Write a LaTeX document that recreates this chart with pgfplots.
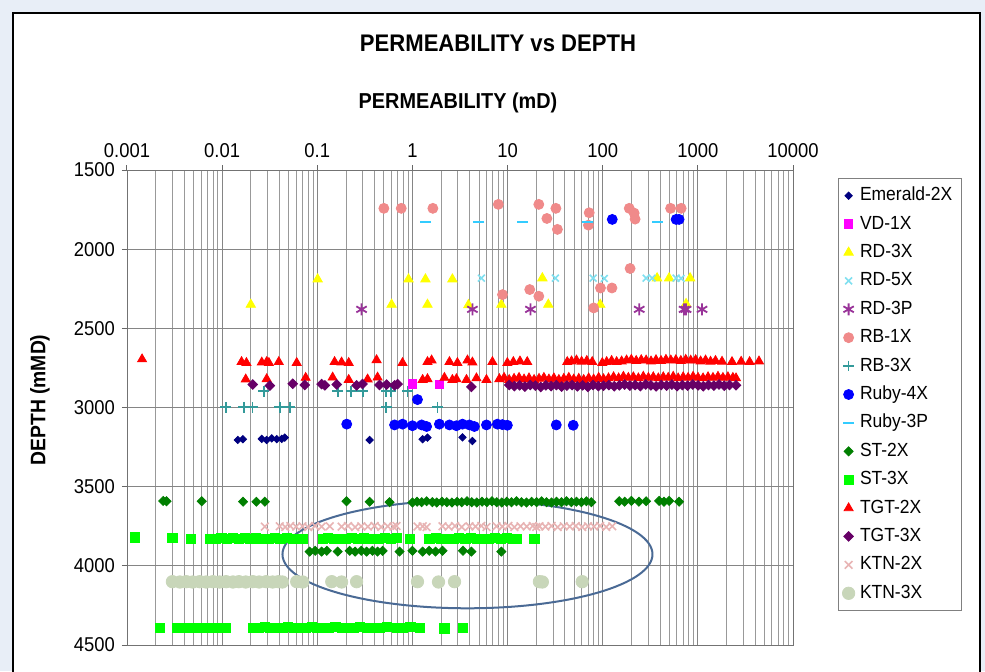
\documentclass[border=0pt]{standalone}
\usepackage{fontspec}
\setmainfont{Liberation Sans}[FakeStretch=0.92]
\usepackage{pgfplots}
\pgfplotsset{compat=1.18}
\definecolor{bgc}{HTML}{E8EEF7}
\definecolor{cEm}{HTML}{000080}
\definecolor{cVD}{HTML}{FF00FF}
\definecolor{cRD3X}{HTML}{FFFF00}
\definecolor{cRD5X}{HTML}{80E0F0}
\definecolor{cRD3P}{HTML}{993399}
\definecolor{cRB1X}{HTML}{F08A8A}
\definecolor{cRB3X}{HTML}{339A9A}
\definecolor{cRuby4X}{HTML}{0000FF}
\definecolor{cRuby3P}{HTML}{33CCFF}
\definecolor{cST2X}{HTML}{007F00}
\definecolor{cST3X}{HTML}{00FF00}
\definecolor{cTGT2X}{HTML}{FF0000}
\definecolor{cTGT3X}{HTML}{660066}
\definecolor{cKTN2X}{HTML}{E8B4B4}
\definecolor{cKTN3X}{HTML}{C8D6B9}
\definecolor{ellc}{HTML}{4A6A95}
\pgfplotsset{mk/.style={only marks, legend image code/.code={\draw[mark repeat=2,mark phase=2,##1] plot coordinates {(0pt,0pt)(3.5pt,0pt)(7pt,0pt)};}}}
\begin{document}
\begin{tikzpicture}
\useasboundingbox (0,0) rectangle (492.5pt,-335.5pt);
\fill[bgc] (0,0) rectangle (492.5pt,-335.5pt);
\begin{scope}
\clip (0,0) rectangle (492.5pt,-335.5pt);
\draw[line width=1.4pt, fill=white] (6.5pt,-6.5pt) rectangle (490pt,-360pt);
\end{scope}
\node[font=\fontsize{12}{14}\selectfont\bfseries] at (249pt,-21.5pt) {PERMEABILITY vs DEPTH};
\node[font=\fontsize{10.8}{12}\selectfont\bfseries] at (229pt,-51.5pt) {PERMEABILITY (mD)};
\node[font=\fontsize{10.5}{12}\selectfont\bfseries, rotate=90] at (20pt,-200pt) {DEPTH (mMD)};
\begin{axis}[
  at={(63.5pt,-85pt)}, anchor=north west,
  scale only axis, width=333pt, height=237.5pt,
  xmode=log, xmin=0.001, xmax=10000, ymin=1500, ymax=4500, y dir=reverse,
  xtick={0.001,0.01,0.1,1,10,100,1000,10000},
  xticklabels={0.001,0.01,0.1,1,10,100,1000,10000},
  ytick={1500,2000,2500,3000,3500,4000,4500},
  xtick pos=top, xticklabel pos=top, ytick pos=left,
  tick align=outside, major tick length=2.5pt, minor tick length=0pt,
  xminorgrids=true, xmajorgrids=true, ymajorgrids=true,
  major grid style={black!48, line width=0.45pt},
  minor grid style={black!40, line width=0.4pt},
  axis line style={black!55},
  tick style={black!60, line width=0.5pt},
  ticklabel style={font=\fontsize{10}{12}\selectfont},
  yticklabel style={/pgf/number format/1000 sep={}, /pgf/number format/assume math mode=true},
  legend style={at={(1.0676,0.983)}, anchor=north west, draw=black!50,
    font=\fontsize{9.5}{11}\selectfont, row sep=0pt, inner xsep=2pt, inner ysep=1.5pt,
    nodes={inner sep=2.6pt, text height=7pt, text depth=2pt}},
  legend cell align=left,
]
\addplot[mk, mark=square*, mark options={rotate=45}, mark size=1.3pt, color=cEm] coordinates {
(0.0146,3205)(0.0165,3200)(0.0261,3198)(0.0294,3205)(0.0332,3195)(0.0375,3200)(0.0423,3198)(0.0455,3190)(0.355,3205)(1.28,3200)(1.44,3190)(3.36,3188)(4.27,3212)};
\addlegendentry{Emerald-2X}
\addplot[mk, mark=square*, mark size=2.1pt, color=cVD] coordinates {(1.0,2850)(1.92,2855)};
\addlegendentry{VD-1X}
\addplot[mk, mark=triangle*, mark size=2.7pt, color=cRD3X] coordinates {
(0.1009,2190)(0.910,2190)(1.37,2190)(2.63,2190)(23.2,2183)(373,2183)(499,2183)(829,2183)
(0.0200,2350)(0.604,2350)(1.44,2350)(3.88,2352)(8.60,2350)(26.8,2350)(94.2,2350)(752,2345)};
\addlegendentry{RD-3X}
\addplot[mk, mark=x, mark size=2.4pt, line width=0.8pt, color=cRD5X] coordinates {
(5.31,2183)(31.8,2183)(79.4,2183)(104,2185)(286,2183)(330,2183)(591,2183)(667,2185)};
\addlegendentry{RD-5X}
\addplot[mk, mark=asterisk, mark size=3pt, line width=0.9pt, color=cRD3P] coordinates {
(0.292,2380)(4.27,2380)(17.4,2380)(242,2380)(717,2380)(752,2380)(1107,2380)};
\addlegendentry{RD-3P}
\addplot[mk, mark=*, mark size=2.5pt, color=cRB1X] coordinates {
(0.501,1742)(0.763,1742)(1.64,1742)(8.0,1717)(21.3,1717)(32.2,1742)(25.9,1806)(33.4,1875)(72.1,1770)(70.8,1848)
(190,1742)(214,1772)(219,1810)(517,1742)(668,1742)
(194,2122)(94.7,2245)(125,2245)(17.1,2255)(8.85,2287)(21.3,2297)(80.4,2371)};
\addlegendentry{RB-1X}
\addplot[mk, mark=+, mark size=2.7pt, line width=0.85pt, color=cRB3X] coordinates {
(0.0274,2897)(0.164,2897)(0.228,2897)(0.301,2897)(0.530,2897)(0.596,2897)(0.890,2897)
(0.0109,2998)(0.0169,2998)(0.0208,2998)(0.0403,2998)(0.0513,2998)(0.530,2998)(1.84,2998)};
\addlegendentry{RB-3X}
\addplot[mk, mark=*, mark size=2.5pt, color=cRuby4X] coordinates {
(1.13,2950)(0.204,3105)(0.649,3110)(0.787,3105)(1.0,3115)(1.25,3110)(1.41,3120)(1.92,3105)(2.45,3110)(2.90,3115)
(3.36,3105)(3.97,3110)(4.48,3120)(6.0,3110)(7.82,3105)(8.81,3108)(9.95,3112)(32.5,3110)(49.0,3112)
(126,1812)(591,1812)(635,1812)};
\addlegendentry{Ruby-4X}
\addplot[mk, mark=-, mark size=2.8pt, line width=1.3pt, color=cRuby3P] coordinates {
(1.37,1829)(4.97,1829)(14.3,1829)(69.0,1829)(373,1829)};
\addlegendentry{Ruby-3P}
\addplot[mk, mark=square*, mark options={rotate=45}, mark size=1.6pt, color=cST2X] coordinates {
(0.0024,3590)(0.0026,3592)(0.0061,3592)(0.0166,3595)(0.0229,3595)(0.0281,3595)(0.203,3592)(0.355,3595)(0.575,3598)
(1.0,3600)(1.12,3595)(1.25,3598)(1.41,3592)(1.62,3598)(1.80,3600)(2.05,3595)(2.30,3598)(2.60,3600)(2.95,3595)
(3.30,3598)(3.75,3592)(4.20,3598)(4.75,3600)(5.40,3595)(6.05,3598)(6.85,3592)(7.70,3598)(8.70,3600)(9.80,3595)
(11.0,3598)(12.4,3592)(14.0,3598)(15.8,3600)(17.9,3595)(20.2,3598)(22.8,3592)(25.7,3598)(29.0,3600)(32.7,3595)
(36.9,3598)(41.6,3592)(46.9,3598)(52.9,3595)(59.7,3598)(67.3,3592)(75.9,3598)
(149,3592)(170,3595)(200,3590)(240,3595)(286,3592)(392,3590)(440,3595)(499,3590)(635,3595)
(0.0832,3910)(0.095,3905)(0.111,3910)(0.126,3905)(0.164,3910)(0.219,3905)(0.250,3910)(0.290,3905)(0.330,3910)
(0.380,3905)(0.430,3910)(0.486,3905)(0.732,3910)(1.0,3905)(1.28,3910)(1.50,3905)(1.75,3910)(2.07,3905)
(3.40,3905)(4.17,3910)(8.60,3910)};
\addlegendentry{ST-2X}
\addplot[mk, mark=square*, mark size=2.3pt, color=cST3X] coordinates {
(0.00121,3820)(0.0030,3822)(0.0047,3832)(0.0074,3828)(0.0085,3832)(0.0098,3826)(0.0113,3830)(0.0130,3826)
(0.0150,3832)(0.0172,3826)(0.0198,3830)(0.0228,3826)(0.0250,3832)(0.0270,3828)(0.0310,3832)(0.0360,3826)
(0.0410,3830)(0.0480,3826)(0.0550,3832)(0.0630,3828)(0.0703,3832)(0.114,3830)(0.130,3826)(0.150,3832)
(0.175,3828)(0.200,3832)(0.230,3826)(0.270,3830)(0.310,3826)(0.330,3832)(0.381,3828)(0.440,3832)(0.510,3826)
(0.590,3830)(0.681,3826)(0.933,3832)(1.51,3830)(1.75,3826)(2.00,3832)(2.30,3828)(2.70,3832)(3.10,3826)
(3.60,3830)(4.10,3826)(4.80,3832)(5.50,3828)(6.40,3832)(7.40,3826)(8.50,3830)(9.80,3826)(11.3,3832)(12.4,3828)(19.1,3832)
(0.00222,4392)(0.00335,4392)(0.00426,4390)(0.00543,4392)(0.0069,4390)(0.0082,4392)(0.0097,4390)(0.0110,4392)
(0.0210,4390)(0.0240,4392)(0.0280,4388)(0.0320,4392)(0.0370,4390)(0.0430,4392)(0.0490,4388)(0.0570,4392)
(0.0660,4390)(0.0760,4392)(0.0880,4388)(0.100,4392)(0.115,4390)(0.133,4392)(0.155,4388)(0.180,4392)(0.210,4390)
(0.240,4392)(0.280,4388)(0.330,4392)(0.381,4390)(0.450,4392)(0.535,4388)(0.681,4390)(0.800,4392)(0.950,4388)
(1.19,4390)(2.17,4395)(3.36,4392)};
\addlegendentry{ST-3X}
\addplot[mk, mark=triangle*, mark size=2.6pt, color=cTGT2X] coordinates {
(0.00144,2695)(0.0160,2712)(0.0180,2718)(0.0261,2715)(0.0294,2712)(0.031,2718)(0.0394,2712)(0.0608,2718)
(0.152,2712)(0.180,2715)(0.214,2718)(0.420,2700)(0.787,2718)(1.44,2712)(1.59,2702)(2.45,2712)(2.97,2718)
(3.79,2702)(4.27,2715)(6.93,2712)(9.95,2718)(11.5,2712)(13.5,2708)(16.1,2712)(42.4,2712)(47,2708)(53,2702)
(60,2710)(68,2705)(77.6,2712)(99,2718)(110,2712)(124,2705)(140,2712)(158,2708)(178,2702)(200,2698)(225,2705)
(254,2700)(286,2702)(322,2708)(363,2700)(410,2705)(462,2698)(520,2702)(587,2700)(662,2705)(746,2698)(841,2703)
(948,2700)(1069,2708)(1205,2702)(1359,2710)(1532,2705)(1795,2710)(2285,2712)(2850,2710)(3500,2712)(4390,2708)
(0.0177,2822)(0.0294,2820)(0.0755,2812)(0.145,2810)(0.214,2825)(0.338,2822)(0.430,2810)(1.28,2825)(1.44,2820)
(2.17,2812)(2.63,2825)(2.90,2820)(3.70,2825)(4.71,2815)(6.0,2825)(8.2,2820)(9.2,2812)(10.4,2825)(11.7,2818)
(13.2,2812)(14.9,2822)(16.8,2815)(19.0,2825)(21.4,2818)(24.1,2812)(27.2,2822)(30.7,2815)(34.6,2825)(39.0,2818)
(44.0,2812)(49.6,2822)(56.0,2818)(63.1,2825)(71.2,2815)(80.3,2822)(90.6,2812)(102,2820)(115,2815)(130,2808)
(147,2815)(165,2805)(186,2812)(210,2808)(237,2815)(267,2805)(302,2812)(340,2808)(384,2815)(433,2808)(488,2812)
(551,2805)(621,2815)(701,2808)(790,2812)(891,2805)(1005,2812)(1134,2815)(1279,2808)(1442,2812)(1627,2805)
(1835,2812)(2070,2808)(2335,2812)(2518,2815)};
\addlegendentry{TGT-2X}
\addplot[mk, mark=square*, mark options={rotate=45}, mark size=1.7pt, color=cTGT3X] coordinates {
(0.0210,2855)(0.0317,2862)(0.0552,2850)(0.0738,2858)(0.111,2852)(0.120,2860)(0.160,2855)(0.259,2860)(0.299,2852)
(0.451,2858)(0.535,2855)(0.649,2860)(0.698,2852)(4.17,2870)(10.4,2858)(11.8,2865)(13.4,2860)(15.2,2868)(17.3,2858)
(19.6,2862)(22.3,2870)(25.3,2860)(28.7,2865)(32.6,2858)(37.0,2868)(42.0,2862)(47.7,2858)(54.2,2866)(61.5,2860)
(69.8,2870)(79.2,2858)(89.9,2865)(102,2862)(116,2858)(132,2866)(150,2860)(170,2855)(193,2862)(219,2858)(249,2865)
(283,2855)(321,2860)(364,2866)(413,2858)(469,2862)(533,2855)(605,2865)(687,2858)(780,2862)(885,2855)(1005,2860)
(1141,2866)(1296,2858)(1471,2862)(1670,2855)(1896,2862)(2153,2858)(2518,2860)};
\addlegendentry{TGT-3X}
\addplot[mk, mark=x, mark size=2.7pt, line width=0.8pt, color=cKTN2X] coordinates {
(0.0281,3752)(0.0403,3750)(0.046,3755)(0.052,3748)(0.060,3752)(0.070,3750)(0.080,3755)(0.095,3748)(0.111,3752)
(0.135,3750)(0.180,3752)(0.210,3748)(0.250,3755)(0.290,3750)(0.340,3752)(0.400,3748)(0.470,3755)(0.550,3750)
(0.630,3752)(0.681,3748)(1.13,3752)(1.28,3750)(1.41,3755)(2.07,3750)(2.40,3752)(2.80,3748)(3.30,3755)(3.97,3750)
(4.60,3752)(5.30,3748)(6.00,3755)(7.64,3750)(8.80,3752)(10.2,3748)(11.8,3755)(13.7,3750)(15.9,3752)(18.4,3748)
(20.0,3755)(21.6,3750)(25.0,3752)(29.0,3748)(33.6,3755)(39.0,3750)(45.0,3752)(52.0,3748)(61.0,3755)(70.0,3750)
(81.0,3752)(94.0,3748)(109,3755)(126,3750)};
\addlegendentry{KTN-2X}
\addplot[mk, mark=*, mark size=3.1pt, color=cKTN3X] coordinates {
(0.0030,4100)(0.0036,4102)(0.0042,4100)(0.0049,4102)(0.0058,4100)(0.0068,4102)(0.0080,4100)(0.0094,4102)
(0.0110,4100)(0.0130,4102)(0.0150,4100)(0.0177,4102)(0.0210,4100)(0.0245,4102)(0.0290,4100)(0.0340,4102)
(0.0390,4100)(0.0430,4102)(0.0608,4100)(0.0703,4102)(0.142,4100)(0.180,4102)(0.259,4100)(1.13,4100)(1.88,4102)
(2.77,4100)(21.6,4100)(23.2,4102)(60.9,4100)};
\addlegendentry{KTN-3X}
\draw[color=ellc, line width=1pt] (axis cs:3.79,3927) ellipse [x radius=92.5pt, y radius=27pt];
\end{axis}
\end{tikzpicture}
\end{document}
